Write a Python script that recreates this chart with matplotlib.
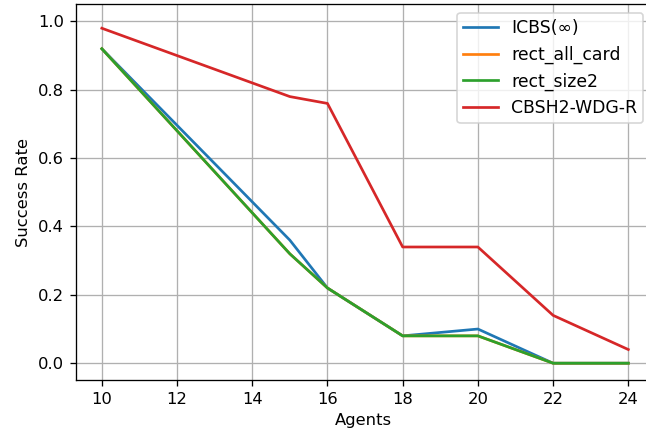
import matplotlib
matplotlib.use("Agg")
import matplotlib.pyplot as plt

# agents sampled where the curves change slope
agents = [10, 15, 16, 18, 20, 22, 24]

icbs = [0.92, 0.36, 0.22, 0.08, 0.10, 0.00, 0.00]
rect_all_card = [0.92, 0.32, 0.22, 0.08, 0.08, 0.00, 0.00]
rect_size2 = [0.92, 0.32, 0.22, 0.08, 0.08, 0.00, 0.00]
cbsh2 = [0.98, 0.78, 0.76, 0.34, 0.34, 0.14, 0.04]

dpi = 118
fig, ax = plt.subplots(figsize=(646 / dpi, 434 / dpi), dpi=dpi)
fig.subplots_adjust(left=75.5 / 646, right=652 / 646, top=1 - 4.3 / 434, bottom=1 - 380.3 / 434)

ax.plot(agents, icbs, color="tab:blue", lw=1.65, label="ICBS(∞)")
ax.plot(agents, rect_all_card, color="tab:orange", lw=1.65, label="rect_all_card")
ax.plot(agents, rect_size2, color="tab:green", lw=1.65, label="rect_size2")
ax.plot(agents, cbsh2, color="tab:red", lw=1.65, label="CBSH2-WDG-R")

ax.set_xticks([10, 12, 14, 16, 18, 20, 22, 24])
ax.set_xlim(9.3, 24.63)
ax.set_ylim(-0.05, 1.05)
ax.set_xlabel("Agents")
ax.set_ylabel("Success Rate")
ax.grid(True, color="#b0b0b0", lw=0.8)
ax.legend(loc="upper right", fontsize=10.5, borderpad=0.35)

fig.savefig("out.png", dpi=dpi)
